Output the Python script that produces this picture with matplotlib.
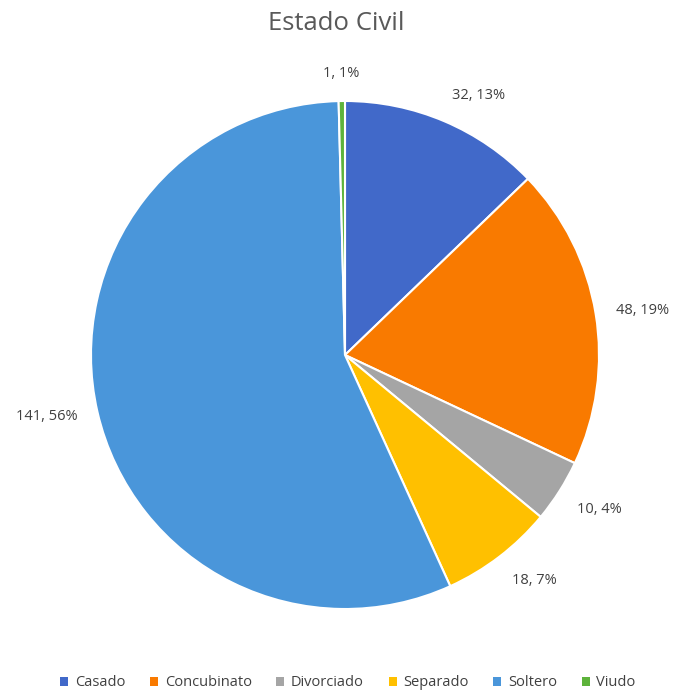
import numpy as np
import matplotlib.pyplot as plt
from matplotlib.patches import Patch

plt.rcParams['font.family'] = ['Open Sans', 'DejaVu Sans']

categories = ['Casado', 'Concubinato', 'Divorciado', 'Separado', 'Soltero', 'Viudo']
counts = [32, 48, 10, 18, 141, 1]
pct_labels = ['13%', '19%', '4%', '7%', '56%', '1%']
colors = ['#4169C9', '#F97A00', '#A5A5A5', '#FFC000', '#4A96DA', '#5DB33B']

fig = plt.figure(figsize=(6.73, 6.94), dpi=100)
# square axes (in pixels) so the pie is round
ax = fig.add_axes([91 / 673, 85 / 694, 508 / 673, 508 / 694])

wedges, _ = ax.pie(
    counts,
    colors=colors,
    startangle=90,
    counterclock=False,
    radius=1.0,
    wedgeprops={'edgecolor': 'white', 'linewidth': 1.5},
)
ax.set_xlim(-1, 1)
ax.set_ylim(-1, 1)
ax.set_aspect('auto')
ax.axis('off')

# data labels outside each slice, anchored like Excel's "best fit"
for w, n, p in zip(wedges, counts, pct_labels):
    ang = np.deg2rad((w.theta1 + w.theta2) / 2)
    x, y = np.cos(ang), np.sin(ang)
    ha = 'left' if x > 0.1 else ('right' if x < -0.1 else 'center')
    va = 'bottom' if y > 0.5 else ('top' if y < -0.5 else 'center')
    ax.text(1.08 * x, 1.08 * y, f'{n}, {p}',
            ha=ha, va=va, fontsize=10.5, color='#404040')

fig.text(0.5, 1 - 24 / 694, 'Estado Civil', ha='center', va='center',
         fontsize=18.5, color='#595959')

handles = [Patch(facecolor=c, edgecolor='none') for c in colors]
fig.legend(handles, categories, loc='center', bbox_to_anchor=(348 / 673, 1 - 683 / 694),
           ncol=6, frameon=False, fontsize=10.5, handlelength=0.55, handleheight=0.55,
           handletextpad=0.45, columnspacing=1.7, labelcolor='#404040',
           borderpad=0.2)

fig.savefig('out.png', dpi=100)
